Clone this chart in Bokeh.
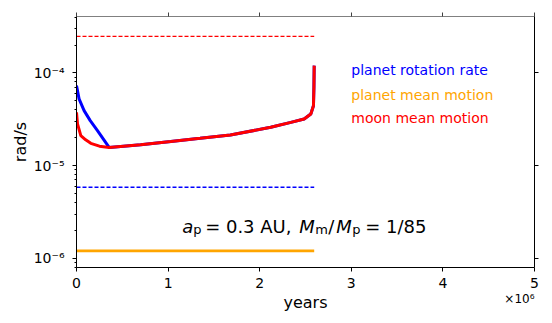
from bokeh.plotting import figure
from bokeh.models import (LinearAxis, LogAxis, FixedTicker, LogTicker,
                          CustomJSTickFormatter, Label, Range1d)
from bokeh.embed import file_html
from bokeh.resources import INLINE

# ---------------- data ----------------
# moon mean motion (rad/s) vs time (years)
moon_t = [0.0, 0.011e6, 0.047e6, 0.10e6, 0.156e6, 0.25e6, 0.356e6, 0.70e6,
          1.03e6, 1.35e6, 1.68e6, 2.12e6, 2.34e6, 2.485e6, 2.558e6, 2.587e6,
          2.592e6, 2.595e6]
moon_n = [3.76e-5, 2.82e-5, 2.11e-5, 1.90e-5, 1.74e-5, 1.62e-5, 1.57e-5, 1.68e-5,
          1.82e-5, 1.97e-5, 2.14e-5, 2.59e-5, 2.93e-5, 3.19e-5, 3.61e-5, 4.43e-5,
          7.0e-5, 1.2e-4]
# planet rotation rate before tidal locking (afterwards it follows the moon)
spin_t = [0.0, 0.028e6, 0.083e6, 0.15e6, 0.229e6, 0.356e6]
spin_w = [7.3e-5, 5.25e-5, 3.92e-5, 3.06e-5, 2.39e-5, 1.57e-5]
lock_time = 0.356e6
planet_mean_motion = 1.2e-6
moon_upper_limit = 2.48e-4     # red dashed
spin_lower_limit = 5.84e-6     # blue dashed

legend_labels = ["planet rotation rate", "planet mean motion", "moon mean motion"]
legend_colors = ["#0000ff", "#ffa500", "#ff0000"]
legend_y = [1.0e-4, 5.32e-5, 3.06e-5]
x_ticks = [0, 1e6, 2e6, 3e6, 4e6, 5e6]
y_major = [1e-6, 1e-5, 1e-4]

# planet rotation after locking equals moon mean motion
spin_full_t = spin_t + [t for t in moon_t if t > lock_time]
spin_full_w = spin_w + [w for t, w in zip(moon_t, moon_n) if t > lock_time]
t_end = moon_t[-1]

FONT = "DejaVu Sans"

p = figure(frame_width=458, frame_height=251,
           x_range=Range1d(0, 5e6), y_range=Range1d(7.94e-7, 4.07e-4),
           y_axis_type="log", output_backend="svg", toolbar_location=None,
           min_border_left=76, min_border_right=18, min_border_top=16,
           min_border_bottom=56, background_fill_color="white",
           border_fill_color="white")
p.outline_line_color = None
p.xgrid.visible = False
p.ygrid.visible = False

# reference lines
p.line([0, t_end], [moon_upper_limit] * 2, line_color="#ff0000",
       line_width=1.3, line_dash="4 2")
p.line([0, t_end], [spin_lower_limit] * 2, line_color="#0000ff",
       line_width=1.3, line_dash="4 2")
p.line([0, t_end], [planet_mean_motion] * 2, line_color="#ffa500", line_width=2.6)
p.line(spin_full_t, spin_full_w, line_color="#0000ff", line_width=3)
p.line(moon_t, moon_n, line_color="#ff0000", line_width=3)

# axes
xfmt = CustomJSTickFormatter(code="return (tick/1e6).toFixed(0);")
yfmt = CustomJSTickFormatter(code="""
const sup = {'-':'\u207b','0':'\u2070','1':'\u00b9','2':'\u00b2','3':'\u00b3',
             '4':'\u2074','5':'\u2075','6':'\u2076','7':'\u2077','8':'\u2078','9':'\u2079'};
const e = Math.round(Math.log10(tick));
return '10' + String(e).split('').map(c => sup[c]).join('');
""")
blank = CustomJSTickFormatter(code="return '';")

xa = p.xaxis[0]
xa.ticker = FixedTicker(ticks=x_ticks)
xa.formatter = xfmt
xa.axis_label = "years"
ya = p.yaxis[0]
ya.ticker = LogTicker(num_minor_ticks=10)
ya.formatter = yfmt
ya.axis_label = "rad/s"

for ax in (xa, ya):
    ax.axis_label_text_font = FONT
    ax.axis_label_text_font_size = "16px"
    ax.axis_label_text_font_style = "normal"
    ax.axis_label_text_color = "black"
    ax.major_label_text_font = FONT
    ax.major_label_text_font_size = "14px"
    ax.major_label_text_color = "black"
    ax.axis_line_color = "black"
    ax.major_tick_line_color = "black"
    ax.minor_tick_line_color = "black"
    ax.major_tick_out = 4
    ax.major_tick_in = 0
    ax.minor_tick_out = 2
    ax.minor_tick_in = 0
xa.minor_tick_line_color = None
xa.major_label_standoff = 6
xa.axis_label_standoff = 2
ya.major_label_standoff = 8
ya.axis_label_standoff = 1

top = LinearAxis(ticker=FixedTicker(ticks=x_ticks), formatter=blank,
                 major_label_standoff=0, axis_line_color="#808080",
                 major_tick_line_color="#404040", minor_tick_line_color=None,
                 major_tick_out=4, major_tick_in=0)
p.add_layout(top, "above")
right = LogAxis(ticker=FixedTicker(ticks=y_major), formatter=blank,
                major_label_standoff=0, axis_line_color="black",
                major_tick_line_color="black", minor_tick_line_color=None,
                major_tick_out=4, major_tick_in=0)
p.add_layout(right, "right")

# legend-like colored texts
for txt, col, yv in zip(legend_labels, legend_colors, legend_y):
    p.add_layout(Label(x=3.0e6, y=yv, y_offset=3, text=txt, text_color=col,
                       text_font=FONT, text_font_size="14px",
                       text_baseline="alphabetic"))

# offset text for x axis (placed in the bottom panel so it is not clipped)
p.add_layout(Label(x=5e6, y=7.94e-7, y_offset=-24, text="\u00d710\u2076",
                   text_font=FONT, text_font_size="12px", text_align="right",
                   text_baseline="top", text_color="black"), "below")

# annotation a_p = 0.3 AU, M_m/M_p = 1/85
ann_x, ann_y = 1.175e6, 1.9e-6
pieces = [  # text, x offset px, y offset px, size, style
    ("a", -2, 6, "18px", "italic"),
    ("p", 9, 3, "13px", "normal"),
    ("= 0.3 AU,", 21, 6, "18px", "normal"),
    ("M", 115, 6, "18px", "italic"),
    ("m", 131, 3, "13px", "normal"),
    ("/", 144, 6, "18px", "normal"),
    ("M", 152, 6, "18px", "italic"),
    ("p", 168, 3, "13px", "normal"),
    ("= 1/85", 181, 6, "18px", "normal"),
]
for txt, dx, dy, fs, st in pieces:
    p.add_layout(Label(x=ann_x, y=ann_y, x_offset=dx, y_offset=dy, text=txt,
                       text_font=FONT, text_font_size=fs, text_font_style=st,
                       text_color="black", text_baseline="alphabetic"))

open("out.html", "w").write(file_html(p, INLINE))
